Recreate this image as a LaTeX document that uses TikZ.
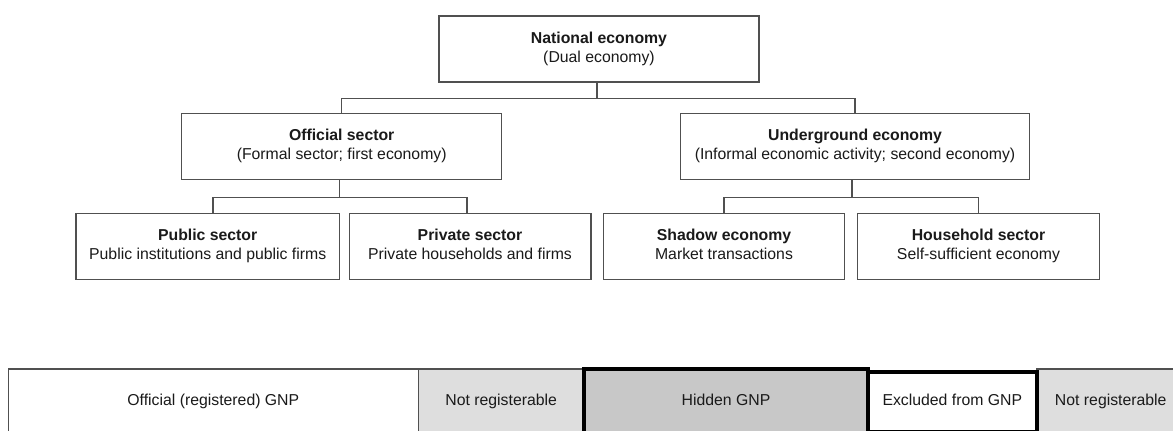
\documentclass[tikz,border=0pt]{standalone}
\usepackage{fontspec}
\setmainfont{Liberation Sans}
\usetikzlibrary{calc}
\definecolor{txt}{HTML}{1A1A1A}
\definecolor{edge}{HTML}{505050}
\definecolor{lgray}{HTML}{DEDEDE}
\definecolor{mgray}{HTML}{C8C8C8}
\newcommand\twolines[2]{\textbf{#1}\strut\\#2\strut}
\begin{document}
\begin{tikzpicture}[x=1pt,y=-1pt,
  every node/.style={font=\fontsize{15.8}{19.5}\selectfont, text=txt},
  treebox/.style={draw=edge, line width=1.3pt, fill=white, minimum height=66pt, align=center, inner sep=2pt},
  link/.style={draw=edge, line width=1.3pt},
  barcell/.style={minimum height=65pt, inner sep=0pt, outer sep=0pt},
  thincell/.style={barcell, draw=edge, line width=1.1pt},
  thickcell/.style={barcell, draw=black, line width=4pt}]
\useasboundingbox (0,0) rectangle (1173,431);
\clip (0,0) rectangle (1173,431);
\fill[white] (0,0) rectangle (1173,431);

% tree
\node[treebox, minimum width=320pt]   (nat) at (599,49)    {\twolines{National economy}{(Dual economy)}};
\node[treebox, minimum width=320pt]   (off) at (341.7,146.3) {\twolines{Official sector}{(Formal sector; first economy)}};
\node[treebox, minimum width=348.6pt] (und) at (855,146.3)   {\twolines{Underground economy}{(Informal economic activity; second economy)}};
\node[treebox, minimum width=263.3pt] (pub) at (207.7,246.3) {\twolines{Public sector}{Public institutions and public firms}};
\node[treebox, minimum width=241.7pt] (pri) at (470,246.3)   {\twolines{Private sector}{Private households and firms}};
\node[treebox, minimum width=241.4pt] (sha) at (724,246.3)   {\twolines{Shadow economy}{Market transactions}};
\node[treebox, minimum width=241.6pt] (hou) at (978.5,246.3) {\twolines{Household sector}{Self-sufficient economy}};

\draw[link] ([xshift=-2pt]nat.south) -- ++(0,15.7) coordinate (bus1);
\draw[link] (off.north) |- (bus1) -| (und.north);
\draw[link] ([xshift=-2pt]off.south) -- ++(0,17.5) coordinate (bus2);
\draw[link] ([xshift=5.3pt]pub.north) |- (bus2) -| ([xshift=-3pt]pri.north);
\draw[link] ([xshift=-3pt]und.south) -- ++(0,17.5) coordinate (bus3);
\draw[link] (sha.north) |- (bus3) -| (hou.north);

% bottom bar
\node[thincell, fill=white, minimum width=410pt]   (gnp) at (213.3,401.5) {\strut Official (registered) GNP};
\node[thincell, fill=lgray, minimum width=165.7pt] (nr1) at (501.2,401.5) {\strut Not registerable};
\node[thincell, fill=lgray, minimum width=148.5pt] (nr2) at (1110.75,401.5) {\strut Not registerable};
\node[thickcell, fill=mgray, minimum width=284pt, minimum height=66pt] (hid) at (726,401.5) {\strut Hidden GNP};
\node[thickcell, fill=white, minimum width=168.5pt, minimum height=60pt] (exc) at (952.3,401.5) {\strut Excluded from GNP};
\end{tikzpicture}
\end{document}
